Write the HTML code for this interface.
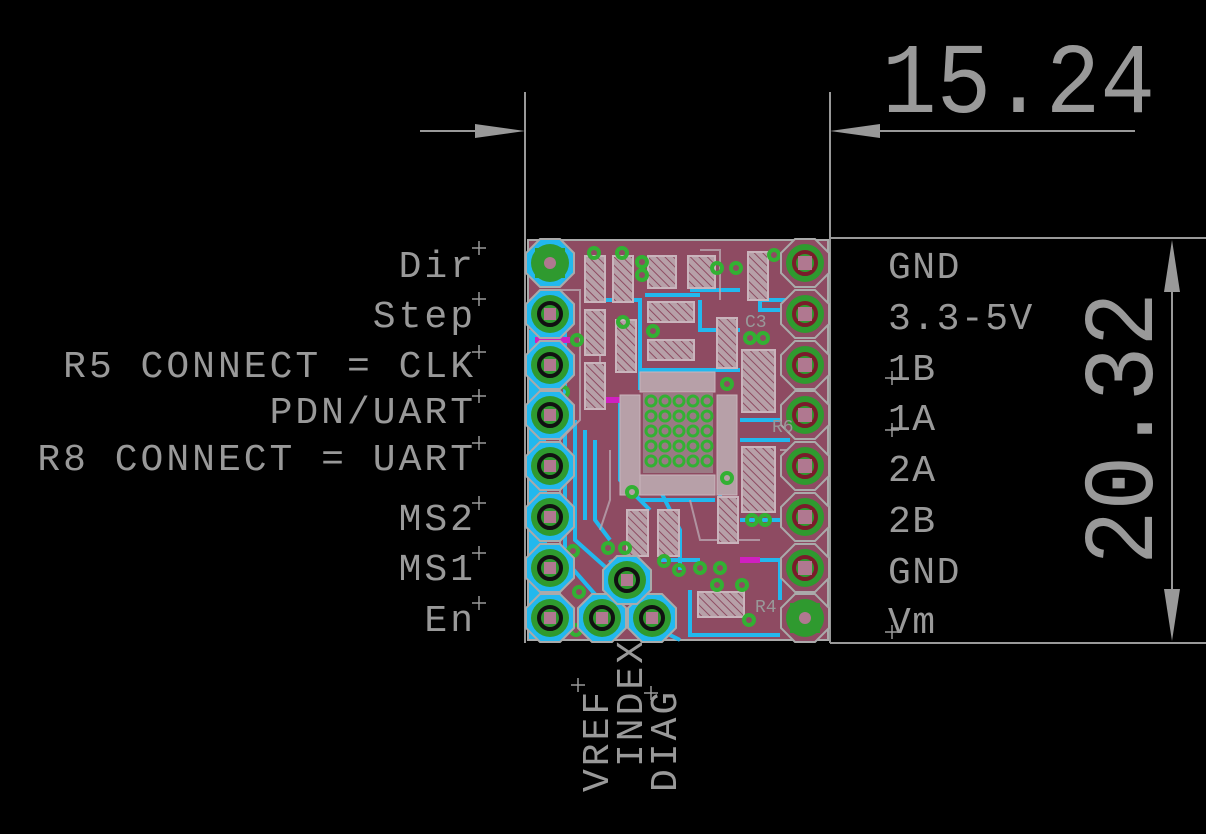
<!DOCTYPE html>
<html><head><meta charset="utf-8"><style>
html,body{margin:0;padding:0;background:#000;}
svg{display:block}
text{font-family:"Liberation Mono",monospace;fill:#999;}
</style></head><body>
<svg width="1206" height="834" viewBox="0 0 1206 834" xmlns="http://www.w3.org/2000/svg">
<defs>
<pattern id="h" width="6" height="6" patternUnits="userSpaceOnUse" patternTransform="rotate(-45)">
<rect width="6" height="6" fill="#b7a0a8"/><line x1="0" y1="0" x2="0" y2="6" stroke="#8e4b62" stroke-width="2"/>
</pattern>
<g id="pad">
<polygon points="-10,-24 10,-24 24,-10 24,10 10,24 -10,24 -24,10 -24,-10" fill="#22b8ee" stroke="#aaa" stroke-width="2"/>
<circle r="19" fill="#2f9a2f"/>
<circle r="11" fill="none" stroke="#111" stroke-width="4"/>
<rect x="-6" y="-6" width="12" height="12" fill="#b07890"/>
</g>
<g id="padr">
<polygon points="-10,-24 10,-24 24,-10 24,10 10,24 -10,24 -24,10 -24,-10" fill="#8e4b62" stroke="#aaa" stroke-width="2"/>
<circle r="19" fill="#2f9a2f"/>
<circle r="11" fill="none" stroke="#7a1c2a" stroke-width="4"/>
<rect x="-7" y="-7" width="14" height="14" fill="#b07890"/>
</g>
</defs>

<g stroke="#999" stroke-width="2" fill="#999">
<line x1="525" y1="92" x2="525" y2="643"/>
<line x1="830" y1="92" x2="830" y2="643"/>
<line x1="420" y1="131" x2="500" y2="131"/>
<polygon points="525,131 475,124 475,138" stroke="none"/>
<line x1="860" y1="131" x2="1135" y2="131"/>
<polygon points="830,131 880,124 880,138" stroke="none"/>
<line x1="830" y1="238" x2="1206" y2="238"/>
<line x1="830" y1="643" x2="1206" y2="643"/>
<line x1="1172" y1="260" x2="1172" y2="620"/>
<polygon points="1172,240 1164,292 1180,292" stroke="none"/>
<polygon points="1172,641 1164,589 1180,589" stroke="none"/>
</g>
<text x="882" y="112" font-size="100" textLength="273" lengthAdjust="spacingAndGlyphs">15.24</text>
<text transform="translate(1152,565) rotate(-90)" font-size="100" textLength="273" lengthAdjust="spacingAndGlyphs">20.32</text>

<rect x="528" y="240" width="300" height="400" fill="#8e4b62"/>
<rect x="528" y="330" width="18" height="310" fill="#22b8ee"/>
<rect x="528" y="240" width="300" height="400" fill="none" stroke="#aaa" stroke-width="2"/>

<g fill="none" stroke="#22b8ee" stroke-width="4">
<path d="M535,440 L535,590 M545,470 L545,600 M565,330 L565,560 L600,600 L600,640"/>
<path d="M575,420 L575,540 L620,580 M585,430 L585,520 M595,440 L595,520 L610,540"/>
<path d="M620,400 L620,480 L640,500 M630,490 L650,510 M660,490 L680,530 L680,570"/>
<path d="M600,300 L640,300 L640,390 M700,300 L700,330 L740,330 M760,300 L800,300"/>
<path d="M740,420 L820,420 M740,520 L820,520 M720,440 L720,500"/>
<path d="M690,590 L690,635 L780,635 M740,560 L780,560 L780,600"/>
<path d="M660,560 L700,560 M610,560 L640,620 L680,640"/>
<path d="M540,380 L560,380 M760,260 L760,310 L800,310"/>
<path d="M640,370 L740,370 M640,500 L715,500 M690,290 L740,290 M645,295 L700,295 M740,440 L790,440"/>
</g>
<g fill="none" stroke="#d020c0" stroke-width="6">
<path d="M535,340 L570,340 M600,400 L640,400 M740,560 L760,560"/>
</g>
<g fill="none" stroke="#b9a6b0" stroke-width="2" opacity="0.8">
<path d="M560,290 L580,290 L580,420 L560,440 L560,600 M600,350 L600,380 M700,250 L720,250 L720,300"/>
<path d="M610,450 L610,500 L600,530 M690,500 L700,540 L760,540 M780,450 L820,450"/>
</g>

<g fill="url(#h)" stroke="#c9b4bc" stroke-width="2">
<rect x="585" y="256" width="20" height="46"/>
<rect x="613" y="256" width="20" height="46"/>
<rect x="648" y="256" width="28" height="32"/>
<rect x="688" y="256" width="27" height="32"/>
<rect x="748" y="252" width="20" height="48"/>
<rect x="585" y="310" width="20" height="45"/>
<rect x="585" y="363" width="20" height="46"/>
<rect x="616" y="320" width="20" height="52"/>
<rect x="648" y="302" width="46" height="20"/>
<rect x="648" y="340" width="46" height="20"/>
<rect x="717" y="318" width="20" height="50"/>
<rect x="742" y="350" width="33" height="62"/>
<rect x="742" y="447" width="33" height="65"/>
<rect x="718" y="497" width="20" height="46"/>
<rect x="627" y="510" width="21" height="46"/>
<rect x="658" y="510" width="21" height="46"/>
<rect x="698" y="592" width="46" height="25"/>
</g>
<g fill="#b7a0a8" stroke="#c9b4bc" stroke-width="1">
<rect x="620" y="395" width="20" height="100"/>
<rect x="640" y="372" width="75" height="20"/>
<rect x="640" y="475" width="75" height="20"/>
<rect x="717" y="395" width="20" height="100"/>
</g>
<rect x="643" y="393" width="70" height="80" fill="#9a7a84"/>
<g fill="none" stroke="#33b033" stroke-width="3">
<circle cx="651" cy="401" r="5"/><circle cx="665" cy="401" r="5"/><circle cx="679" cy="401" r="5"/><circle cx="693" cy="401" r="5"/><circle cx="707" cy="401" r="5"/>
<circle cx="651" cy="416" r="5"/><circle cx="665" cy="416" r="5"/><circle cx="679" cy="416" r="5"/><circle cx="693" cy="416" r="5"/><circle cx="707" cy="416" r="5"/>
<circle cx="651" cy="431" r="5"/><circle cx="665" cy="431" r="5"/><circle cx="679" cy="431" r="5"/><circle cx="693" cy="431" r="5"/><circle cx="707" cy="431" r="5"/>
<circle cx="651" cy="446" r="5"/><circle cx="665" cy="446" r="5"/><circle cx="679" cy="446" r="5"/><circle cx="693" cy="446" r="5"/><circle cx="707" cy="446" r="5"/>
<circle cx="651" cy="461" r="5"/><circle cx="665" cy="461" r="5"/><circle cx="679" cy="461" r="5"/><circle cx="693" cy="461" r="5"/><circle cx="707" cy="461" r="5"/>
</g>
<g fill="none" stroke="#33b033" stroke-width="4">
<circle cx="594" cy="253" r="5"/><circle cx="622" cy="253" r="5"/><circle cx="642" cy="262" r="5"/><circle cx="642" cy="275" r="5"/>
<circle cx="717" cy="268" r="5"/><circle cx="736" cy="268" r="5"/><circle cx="774" cy="255" r="5"/>
<circle cx="623" cy="322" r="5"/><circle cx="653" cy="331" r="5"/><circle cx="577" cy="340" r="5"/>
<circle cx="750" cy="338" r="5"/><circle cx="763" cy="338" r="5"/><circle cx="727" cy="384" r="5"/>
<circle cx="563" cy="392" r="5"/><circle cx="727" cy="478" r="5"/><circle cx="632" cy="492" r="5"/>
<circle cx="752" cy="520" r="5"/><circle cx="765" cy="520" r="5"/>
<circle cx="573" cy="551" r="5"/><circle cx="608" cy="548" r="5"/><circle cx="625" cy="548" r="5"/>
<circle cx="664" cy="561" r="5"/><circle cx="679" cy="570" r="5"/><circle cx="700" cy="568" r="5"/><circle cx="720" cy="568" r="5"/>
<circle cx="717" cy="585" r="5"/><circle cx="742" cy="585" r="5"/><circle cx="749" cy="620" r="5"/><circle cx="579" cy="592" r="5"/><circle cx="576" cy="630" r="5"/>
</g>

<use href="#pad" x="550" y="263"/><use href="#pad" x="550" y="314"/><use href="#pad" x="550" y="365"/><use href="#pad" x="550" y="415"/>
<use href="#pad" x="550" y="466"/><use href="#pad" x="550" y="517"/><use href="#pad" x="550" y="568"/><use href="#pad" x="550" y="618"/>
<use href="#padr" x="805" y="263"/><use href="#padr" x="805" y="314"/><use href="#padr" x="805" y="365"/><use href="#padr" x="805" y="415"/>
<use href="#padr" x="805" y="466"/><use href="#padr" x="805" y="517"/><use href="#padr" x="805" y="568"/><use href="#padr" x="805" y="618"/>
<use href="#pad" x="602" y="618"/><use href="#pad" x="652" y="618"/><use href="#pad" x="627" y="580"/>
<rect x="535" y="248" width="30" height="30" fill="#2f9a2f"/><circle cx="550" cy="263" r="6" fill="#b07890"/>
<rect x="790" y="603" width="30" height="30" fill="#2f9a2f"/><circle cx="805" cy="618" r="6" fill="#b07890"/>

<g font-size="18" fill="#b8a8b0">
<text x="772" y="432">R6</text>
<text x="755" y="612">R4</text>
<text x="745" y="327">C3</text>
</g>

<g font-size="38" text-anchor="end" style="letter-spacing:3px">
<text x="476" y="277">Dir</text>
<text x="476" y="327">Step</text>
<text x="476" y="377">R5 CONNECT = CLK</text>
<text x="476" y="423">PDN/UART</text>
<text x="476" y="470">R8 CONNECT = UART</text>
<text x="476" y="530">MS2</text>
<text x="476" y="580">MS1</text>
<text x="476" y="631">En</text>
</g>
<g font-size="38" style="letter-spacing:1.5px">
<text x="888" y="278">GND</text>
<text x="888" y="329">3.3-5V</text>
<text x="888" y="380">1B</text>
<text x="888" y="430">1A</text>
<text x="888" y="481">2A</text>
<text x="888" y="532">2B</text>
<text x="888" y="583">GND</text>
<text x="888" y="633">Vm</text>
</g>
<g font-size="38" style="letter-spacing:3px">
<text transform="translate(608,792) rotate(-90)">VREF</text>
<text transform="translate(642,767) rotate(-90)">INDEX</text>
<text transform="translate(676,792) rotate(-90)">DIAG</text>
</g>
<g stroke="#999" stroke-width="1.5">
<path d="M472,248 h14 M479,241 v14"/><path d="M472,299 h14 M479,292 v14"/><path d="M472,352 h14 M479,345 v14"/>
<path d="M472,396 h14 M479,389 v14"/><path d="M472,443 h14 M479,436 v14"/><path d="M472,503 h14 M479,496 v14"/>
<path d="M472,553 h14 M479,546 v14"/><path d="M472,603 h14 M479,596 v14"/>
<path d="M571,685 h14 M578,678 v14"/><path d="M644,693 h14 M651,686 v14"/>
<path d="M885,378 h14 M892,371 v14"/><path d="M885,430 h14 M892,423 v14"/><path d="M885,632 h14 M892,625 v14"/>
</g>
</svg>
</body></html>
